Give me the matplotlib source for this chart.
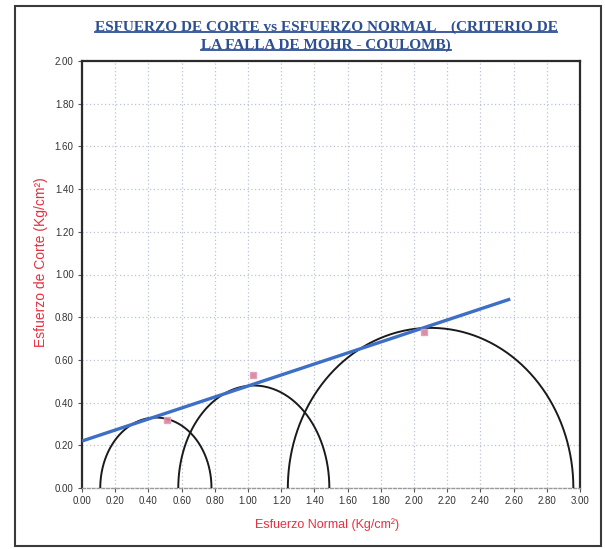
import numpy as np
import matplotlib
matplotlib.use("Agg")
import matplotlib.pyplot as plt
from matplotlib.lines import Line2D
from matplotlib.patches import Rectangle

# ---- data ----
circle_centers = [0.445, 1.035, 2.10]     # Kg/cm2
circle_radii = [0.335, 0.455, 0.86]       # horizontal half widths
circle_heights = [0.33, 0.48, 0.75]       # peak shear drawn
points_x = [0.51, 1.03, 2.06]
points_y = [0.32, 0.53, 0.73]
env_x = [0.0, 2.58]
env_y = [0.22, 0.885]
x_ticks = [0.0, 0.2, 0.4, 0.6, 0.8, 1.0, 1.2, 1.4, 1.6, 1.8, 2.0, 2.2, 2.4, 2.6, 2.8, 3.0]
y_ticks = [0.0, 0.2, 0.4, 0.6, 0.8, 1.0, 1.2, 1.4, 1.6, 1.8, 2.0]
title_line1 = "ESFUERZO DE CORTE vs ESFUERZO NORMAL    (CRITERIO DE"
title_line2 = "LA FALLA DE MOHR - COULOMB)"
xlabel = "Esfuerzo Normal (Kg/cm²)"
ylabel = "Esfuerzo de Corte (Kg/cm²)"

narrow = ["Liberation Sans Narrow", "Liberation Sans", "DejaVu Sans"]
serif = ["Liberation Serif", "DejaVu Serif"]

fig = plt.figure(figsize=(6.05, 5.49), dpi=100)
W, H = 605, 549
ax = fig.add_axes([82 / W, 1 - 488 / H, (580 - 82) / W, (488 - 61) / H])

ax.set_xlim(0, 3.0)
ax.set_ylim(0, 2.0)
ax.set_xticks(x_ticks)
ax.set_yticks(y_ticks)
ax.set_xticklabels([f"{v:.2f}" for v in x_ticks], family=narrow, fontsize=7, color="#333333")
ax.set_yticklabels([f"{v:.2f}" for v in y_ticks], family=narrow, fontsize=7, color="#333333")
ax.tick_params(axis="both", length=3, width=0.8, color="#555555", pad=3)
ax.grid(True, color="#bcc3d8", linestyle=(0, (1, 2)), linewidth=0.9)
ax.set_axisbelow(True)

for side in ("left", "top", "right"):
    ax.spines[side].set_color("#2b2b2b")
    ax.spines[side].set_linewidth(1.6)
ax.spines["bottom"].set_color("#9a9a9a")
ax.spines["bottom"].set_linewidth(1.0)
ax.spines["bottom"].set_linestyle((0, (2, 1.5)))

# Mohr circles
theta = np.linspace(0, np.pi, 300)
for c, r, h in zip(circle_centers, circle_radii, circle_heights):
    ax.plot(c + r * np.cos(theta), h * np.sin(theta), color="#1a1a1a", linewidth=1.4, clip_on=True, zorder=3)

# Envelope
ax.plot(env_x, env_y, color="#3d6fc6", linewidth=2.4, zorder=4, solid_capstyle="butt")

# Points
ax.plot(points_x, points_y, linestyle="none", marker="s", markersize=5,
        markerfacecolor="#d9809a", markeredgecolor="#e0a0b5", alpha=0.9, zorder=5)

# Axis labels
fig.text(327 / W, 1 - 525 / H, xlabel, ha="center", va="center",
         family=narrow, fontsize=9, color="#e8303f")
fig.text(41 / W, 1 - 262 / H, ylabel, ha="center", va="center", rotation=90,
         family=narrow, fontsize=10, color="#e8303f")

# Title with underline
tcol = "#2d4f93"
t1 = fig.text(326 / W, 1 - 27 / H, title_line1, ha="center", va="center",
              family=serif, fontsize=11, fontweight="bold", color=tcol)
t2 = fig.text(326 / W, 1 - 45 / H, title_line2, ha="center", va="center",
              family=serif, fontsize=11, fontweight="bold", color=tcol)
fig.canvas.draw()
r = fig.canvas.get_renderer()
for t in (t1, t2):
    bb = t.get_window_extent(r)
    y = bb.y0 + 1.5
    fig.add_artist(Line2D([bb.x0 / W, bb.x1 / W], [y / H, y / H],
                          transform=fig.transFigure, color=tcol, linewidth=1.3))

# outer frame
fig.add_artist(Rectangle((15 / W, 3 / H), (601 - 15) / W, (543 - 3) / H,
                         transform=fig.transFigure, fill=False,
                         edgecolor="#3a3a3a", linewidth=1.5))

fig.savefig("out.png", dpi=100)
